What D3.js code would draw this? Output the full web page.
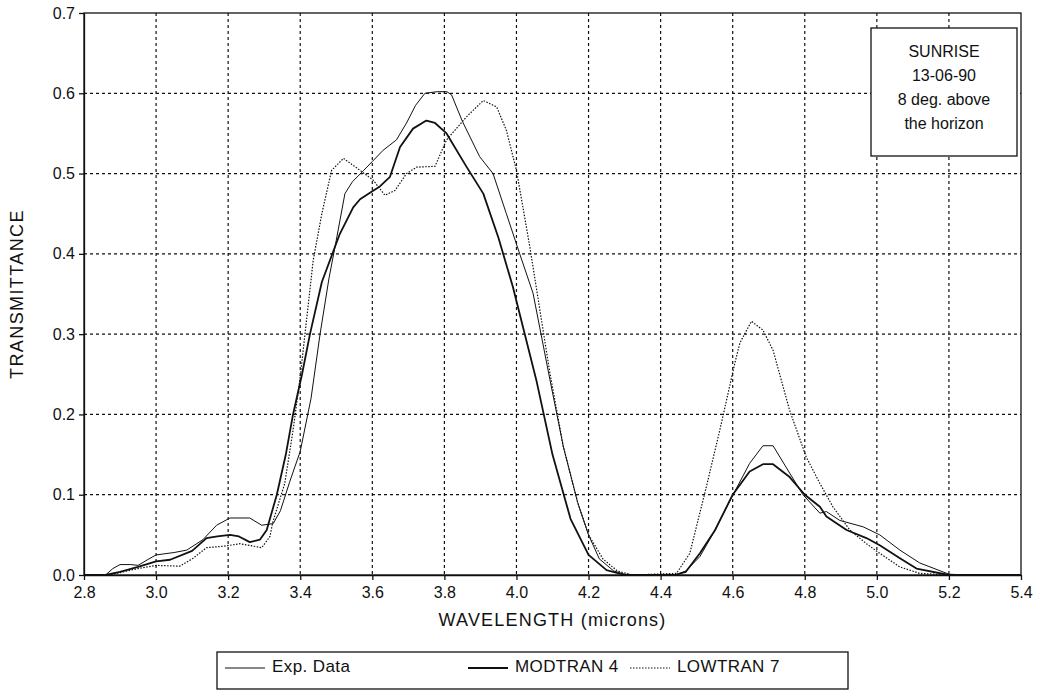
<!DOCTYPE html>
<html><head><meta charset="utf-8">
<script src="https://cdn.jsdelivr.net/npm/d3@7/dist/d3.min.js"></script>
<style>
body{margin:0;background:#fff;}
text{font-family:"Liberation Sans",Arial,sans-serif;fill:#111;}
</style></head>
<body><svg id="c" width="1040" height="691"></svg>
<script>
const xTicks=[2.8,3.0,3.2,3.4,3.6,3.8,4.0,4.2,4.4,4.6,4.8,5.0,5.2,5.4];
const yTicks=[0.0,0.1,0.2,0.3,0.4,0.5,0.6,0.7];
const seriesNames=["Exp. Data","MODTRAN 4","LOWTRAN 7"];
const noteLines=["SUNRISE","13-06-90","8 deg. above","the horizon"];

const expWl=[2.8,2.86,2.88,2.9,2.93,2.95,2.98,3.0,3.05,3.085,3.13,3.168,3.205,3.23,3.26,3.293,3.325,3.345,3.37,3.4,3.43,3.455,3.48,3.5,3.524,3.545,3.574,3.6,3.63,3.667,3.695,3.72,3.746,3.78,3.807,3.82,3.85,3.898,3.935,3.972,4.009,4.046,4.093,4.13,4.17,4.2,4.23,4.27,4.3,4.35,4.44,4.47,4.509,4.546,4.601,4.647,4.684,4.712,4.758,4.795,4.842,4.86,4.897,4.962,5.008,5.064,5.119,5.2,5.25,5.4];
const expT=[0,0,0.008,0.013,0.013,0.012,0.02,0.025,0.028,0.031,0.044,0.062,0.071,0.071,0.071,0.062,0.064,0.08,0.115,0.154,0.22,0.3,0.37,0.417,0.475,0.49,0.503,0.515,0.529,0.542,0.563,0.585,0.6,0.602,0.602,0.598,0.565,0.521,0.5,0.45,0.4,0.351,0.243,0.16,0.09,0.05,0.02,0.005,0.001,0,0,0.005,0.023,0.052,0.1,0.139,0.161,0.161,0.127,0.1,0.077,0.079,0.068,0.06,0.05,0.031,0.015,0.001,0,0];

const modWl=[2.8,2.86,2.9,2.95,3.0,3.039,3.1,3.14,3.17,3.205,3.23,3.26,3.288,3.307,3.335,3.36,3.38,3.405,3.427,3.46,3.51,3.547,3.566,3.6,3.621,3.649,3.677,3.713,3.75,3.774,3.806,3.862,3.908,3.95,3.99,4.055,4.1,4.15,4.2,4.25,4.3,4.44,4.47,4.509,4.55,4.6,4.647,4.684,4.712,4.758,4.8,4.842,4.86,4.916,4.971,5.008,5.064,5.11,5.2,5.4];
const modT=[0,0,0.004,0.01,0.017,0.019,0.03,0.046,0.048,0.05,0.048,0.041,0.044,0.056,0.1,0.15,0.2,0.25,0.3,0.365,0.425,0.458,0.468,0.478,0.484,0.496,0.533,0.556,0.566,0.563,0.55,0.508,0.475,0.42,0.359,0.243,0.15,0.07,0.025,0.006,0,0,0.004,0.027,0.055,0.1,0.129,0.138,0.138,0.122,0.1,0.085,0.073,0.056,0.046,0.037,0.021,0.008,0,0];

const lowWl=[2.8,2.86,2.9,2.95,3.0,3.066,3.103,3.14,3.19,3.233,3.293,3.316,3.324,3.357,3.38,3.4,3.436,3.46,3.487,3.52,3.566,3.602,3.635,3.663,3.695,3.723,3.774,3.806,3.862,3.908,3.945,3.972,4.0,4.037,4.093,4.13,4.17,4.2,4.24,4.28,4.32,4.444,4.481,4.527,4.564,4.606,4.62,4.652,4.684,4.712,4.758,4.804,4.842,4.878,4.925,4.971,5.008,5.064,5.119,5.2,5.4];
const lowT=[0,0,0.003,0.008,0.012,0.011,0.021,0.034,0.036,0.039,0.034,0.048,0.066,0.114,0.18,0.247,0.392,0.45,0.504,0.519,0.504,0.492,0.473,0.479,0.5,0.508,0.509,0.542,0.571,0.591,0.583,0.554,0.504,0.409,0.251,0.16,0.09,0.05,0.02,0.005,0,0.002,0.027,0.11,0.18,0.264,0.289,0.316,0.305,0.28,0.205,0.147,0.114,0.085,0.056,0.039,0.027,0.01,0.002,0,0];

const svg=d3.select("#c");
const L=84,R=1021,T=13,B=575;
const x=d3.scaleLinear().domain([2.8,5.4]).range([L,R]);
const y=d3.scaleLinear().domain([0,0.7]).range([B,T]);

// grid
const g=svg.append("g");
g.selectAll("line.vx").data(xTicks.slice(1,-1)).join("line")
 .attr("x1",d=>x(d)).attr("x2",d=>x(d)).attr("y1",T).attr("y2",B)
 .attr("stroke","#111").attr("stroke-width",1.2).attr("stroke-dasharray","3,3");
g.selectAll("line.hy").data(yTicks.slice(1,-1)).join("line")
 .attr("y1",d=>y(d)).attr("y2",d=>y(d)).attr("x1",L).attr("x2",R)
 .attr("stroke","#111").attr("stroke-width",1.2).attr("stroke-dasharray","3,3");

// axes
const xAxis=d3.axisBottom(x).tickValues(xTicks).tickFormat(d3.format(".1f")).tickSize(5).tickSizeOuter(0);
const yAxis=d3.axisLeft(y).tickValues(yTicks).tickFormat(d3.format(".1f")).tickSize(5).tickSizeOuter(0);
const gx=svg.append("g").attr("transform",`translate(0,${B})`).call(xAxis);
const gy=svg.append("g").attr("transform",`translate(${L},0)`).call(yAxis);
[gx,gy].forEach(a=>{a.selectAll("path,line").attr("stroke","#111").attr("stroke-width",1.3);
 a.selectAll("text").style("font-size","16px").attr("fill","#111");});
gx.selectAll("text").attr("dy","0.95em");
gy.selectAll("text").attr("dx","-1px");
svg.append("rect").attr("x",L).attr("y",T).attr("width",R-L).attr("height",B-T)
 .attr("fill","none").attr("stroke","#111").attr("stroke-width",1.3);

// curves
const line=d3.line().x(d=>x(d[0])).y(d=>y(d[1]));
const mk=(w,t)=>w.map((v,i)=>[v,t[i]]);
const series=[
 {data:mk(expWl,expT),w:1,dash:null},
 {data:mk(modWl,modT),w:1.8,dash:null},
 {data:mk(lowWl,lowT),w:1.2,dash:"1.5,1.5"}];
series.forEach(s=>{
 svg.append("path").datum(s.data).attr("d",line).attr("fill","none")
  .attr("stroke","#111").attr("stroke-width",s.w).attr("stroke-dasharray",s.dash)
  .attr("stroke-linejoin","round");
});

// axis titles
svg.append("text").attr("x",(L+R)/2).attr("y",621).attr("text-anchor","middle")
 .attr("dominant-baseline","middle").style("font-size","18px").style("letter-spacing","1.2px").text("WAVELENGTH (microns)");
svg.append("text").attr("transform",`translate(18,${(T+B)/2}) rotate(-90)`).attr("text-anchor","middle")
 .attr("dominant-baseline","middle").style("font-size","18px").style("letter-spacing","1.4px").text("TRANSMITTANCE");

// note box
svg.append("rect").attr("x",871).attr("y",28).attr("width",146).attr("height",128)
 .attr("fill","#fff").attr("stroke","#111").attr("stroke-width",1.3);
svg.selectAll("text.note").data(noteLines).join("text").attr("class","note")
 .attr("x",944).attr("y",(d,i)=>53+i*24).attr("text-anchor","middle")
 .attr("dominant-baseline","middle").style("font-size","16px").text(d=>d);

// legend
svg.append("rect").attr("x",217).attr("y",652).attr("width",631).attr("height",37)
 .attr("fill","#fff").attr("stroke","#111").attr("stroke-width",1.3);
const legX=[225,468,630];
const lg=svg.selectAll("g.leg").data(seriesNames).join("g").attr("class","leg")
 .attr("transform",(d,i)=>`translate(${legX[i]},668)`);
lg.append("line").attr("x1",0).attr("x2",40).attr("y1",0).attr("y2",0)
 .attr("stroke","#111").attr("stroke-width",(d,i)=>series[i].w)
 .attr("stroke-dasharray",(d,i)=>series[i].dash);
lg.append("text").attr("x",47).attr("y",0).attr("dominant-baseline","middle")
 .style("font-size","17px").style("letter-spacing","0.4px").text(d=>d);
</script></body></html>
